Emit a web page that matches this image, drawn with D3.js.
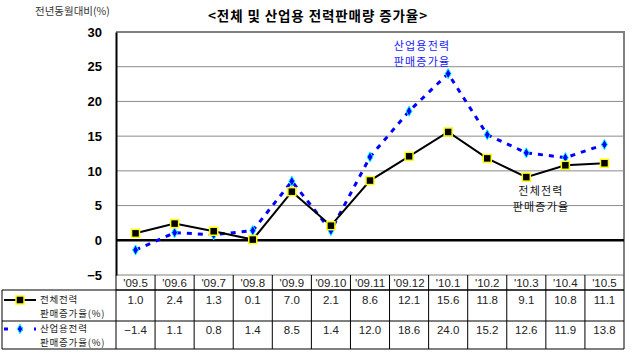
<!DOCTYPE html>
<html><head><meta charset="utf-8">
<script src="https://cdn.jsdelivr.net/npm/d3@7"></script>
<style>body{margin:0;background:#fff}svg{display:block}</style>
</head><body>
<svg id="c" width="636" height="360"></svg>
<script>
const categories = ["'09.5","'09.6","'09.7","'09.8","'09.9","'09.10","'09.11","'09.12","'10.1","'10.2","'10.3","'10.4","'10.5"];
const totalValues = [1.0, 2.4, 1.3, 0.1, 7.0, 2.1, 8.6, 12.1, 15.6, 11.8, 9.1, 10.8, 11.1];
const industryValues = [-1.4, 1.1, 0.8, 1.4, 8.5, 1.4, 12.0, 18.6, 24.0, 15.2, 12.6, 11.9, 13.8];
const yTicks = [-5, 0, 5, 10, 15, 20, 25, 30];
const seriesNames = [["전체전력","판매증가율(%)"],["산업용전력","판매증가율(%)"]];

const svg = d3.select("#c");
const L = 116, R = 624, T = 32, B = 275;
const KR = "'Noto Sans CJK KR', 'DejaVu Sans', sans-serif";
const NUM = "'Liberation Sans', Arial, sans-serif";

const x = d3.scaleBand().domain(categories).range([L, R]);
const y = d3.scaleLinear().domain([-5, 30]).range([B, T]);

// title
svg.append("text").attr("x", 318).attr("y", 21).attr("text-anchor", "middle")
  .attr("font-family", KR).attr("font-weight", "bold").attr("font-size", 13.5).attr("letter-spacing", 0.9)
  .text("<전체 및 산업용 전력판매량 증가율>");
svg.append("text").attr("x", 35).attr("y", 15)
  .attr("font-family", KR).attr("font-size", 10.5).attr("fill", "#333")
  .text("전년동월대비(%)");

// gridlines
svg.append("g").selectAll("line").data(yTicks.filter(d => d > 0 && d < 30)).join("line")
  .attr("x1", L).attr("x2", R).attr("y1", d => y(d)).attr("y2", d => y(d))
  .attr("stroke", "#8c8c8c").attr("stroke-width", 1);

// plot border
svg.append("path").attr("d", `M${L},${T}H${R}V${B}`).attr("fill", "none")
  .attr("stroke", "#808080").attr("stroke-width", 2);
svg.append("line").attr("x1", L).attr("x2", R).attr("y1", B).attr("y2", B)
  .attr("stroke", "#808080").attr("stroke-width", 1);

// y axis
const yAxis = d3.axisLeft(y).tickValues(yTicks).tickSize(0).tickPadding(14)
  .tickFormat(d => d < 0 ? "−" + Math.abs(d) : d);
const ga = svg.append("g").attr("transform", `translate(${L},0)`).call(yAxis);
ga.select(".domain").attr("stroke", "#000").attr("stroke-width", 2);
ga.selectAll("text").attr("font-family", NUM).attr("font-weight", "bold").attr("font-size", 13).attr("fill", "#000");

// zero line
svg.append("line").attr("x1", L).attr("x2", R).attr("y1", y(0)).attr("y2", y(0))
  .attr("stroke", "#000").attr("stroke-width", 2.5);

const cx = d => x(d) + x.bandwidth() / 2;
const line = d3.line().x((d, i) => cx(categories[i])).y(d => y(d));

// industry series
svg.append("path").datum(industryValues).attr("d", line).attr("fill", "none")
  .attr("stroke", "#0000ff").attr("stroke-width", 3).attr("stroke-dasharray", "5,6");
svg.append("g").selectAll("path").data(industryValues).join("path")
  .attr("transform", (d, i) => `translate(${cx(categories[i])},${y(d)})`)
  .attr("d", d3.symbol(d3.symbolDiamond, 30))
  .attr("fill", "#0000ff").attr("stroke", "#00ffff").attr("stroke-width", 1);

// total series
svg.append("path").datum(totalValues).attr("d", line).attr("fill", "none")
  .attr("stroke", "#000").attr("stroke-width", 2);
svg.append("g").selectAll("rect").data(totalValues).join("rect")
  .attr("x", (d, i) => cx(categories[i]) - 4).attr("y", d => y(d) - 4)
  .attr("width", 8).attr("height", 8)
  .attr("fill", "#000").attr("stroke", "#ffff00").attr("stroke-width", 1.5);

// annotations
function twoLine(xc, y1, y2, lines, color, size, ls) {
  [y1, y2].forEach((yy, k) => {
    svg.append("text").attr("x", xc).attr("y", yy).attr("text-anchor", "middle")
      .attr("font-family", KR).attr("font-size", size).attr("letter-spacing", ls)
      .attr("fill", color).text(lines[k]);
  });
}
twoLine(422, 50, 66, ["산업용전력", "판매증가율"], "#1a1aff", 11, 1.2);
twoLine(541, 195, 211, ["전체전력", "판매증가율"], "#111", 11, 1.2);

// data table
const tg = svg.append("g");
categories.forEach((c, i) => {
  tg.append("line").attr("x1", x(c)).attr("x2", x(c)).attr("y1", 275).attr("y2", 349).attr("stroke", "#000").attr("stroke-width", 1);
});
tg.append("line").attr("x1", R).attr("x2", R).attr("y1", 275).attr("y2", 349).attr("stroke", "#000").attr("stroke-width", 1);
tg.append("line").attr("x1", 2).attr("x2", 2).attr("y1", 290).attr("y2", 349).attr("stroke", "#000").attr("stroke-width", 1);
[[L, 290], [2, 290], [2, 321], [2, 349]].forEach(([x0, yy]) => {
  tg.append("line").attr("x1", x0).attr("x2", R).attr("y1", yy).attr("y2", yy).attr("stroke", "#000").attr("stroke-width", 1);
});
tg.selectAll("text.h").data(categories).join("text").attr("class", "h")
  .attr("x", d => cx(d)).attr("y", 287).attr("text-anchor", "middle")
  .attr("font-family", NUM).attr("font-size", 11.5).attr("fill", "#222").text(d => d);
const fmt = v => (v < 0 ? "−" : "") + Math.abs(v).toFixed(1);
tg.selectAll("text.v1").data(totalValues).join("text").attr("class", "v1")
  .attr("x", (d, i) => cx(categories[i])).attr("y", 304).attr("text-anchor", "middle")
  .attr("font-family", NUM).attr("font-size", 11.5).attr("fill", "#222").text(fmt);
tg.selectAll("text.v2").data(industryValues).join("text").attr("class", "v2")
  .attr("x", (d, i) => cx(categories[i])).attr("y", 334).attr("text-anchor", "middle")
  .attr("font-family", NUM).attr("font-size", 11.5).attr("fill", "#222").text(fmt);
[[303, 317], [332, 346]].forEach(([y1, y2], k) => {
  [y1, y2].forEach((yy, j) => {
    tg.append("text").attr("x", 40).attr("y", yy).attr("font-family", KR).attr("font-size", 9.5)
      .attr("letter-spacing", 0.8).attr("fill", "#222").text(seriesNames[k][j]);
  });
});
tg.append("line").attr("x1", 4).attr("x2", 36).attr("y1", 300).attr("y2", 300).attr("stroke", "#000").attr("stroke-width", 2);
tg.append("rect").attr("x", 16).attr("y", 296).attr("width", 8).attr("height", 8).attr("fill", "#000").attr("stroke", "#ffff00").attr("stroke-width", 1.5);
tg.append("line").attr("x1", 4).attr("x2", 36).attr("y1", 329).attr("y2", 329).attr("stroke", "#0000ff").attr("stroke-width", 3).attr("stroke-dasharray", "4,11");
tg.append("path").attr("transform", "translate(20,329)").attr("d", d3.symbol(d3.symbolDiamond, 25)).attr("fill", "#0000ff").attr("stroke", "#00ffff").attr("stroke-width", 1);
</script>
</body></html>
